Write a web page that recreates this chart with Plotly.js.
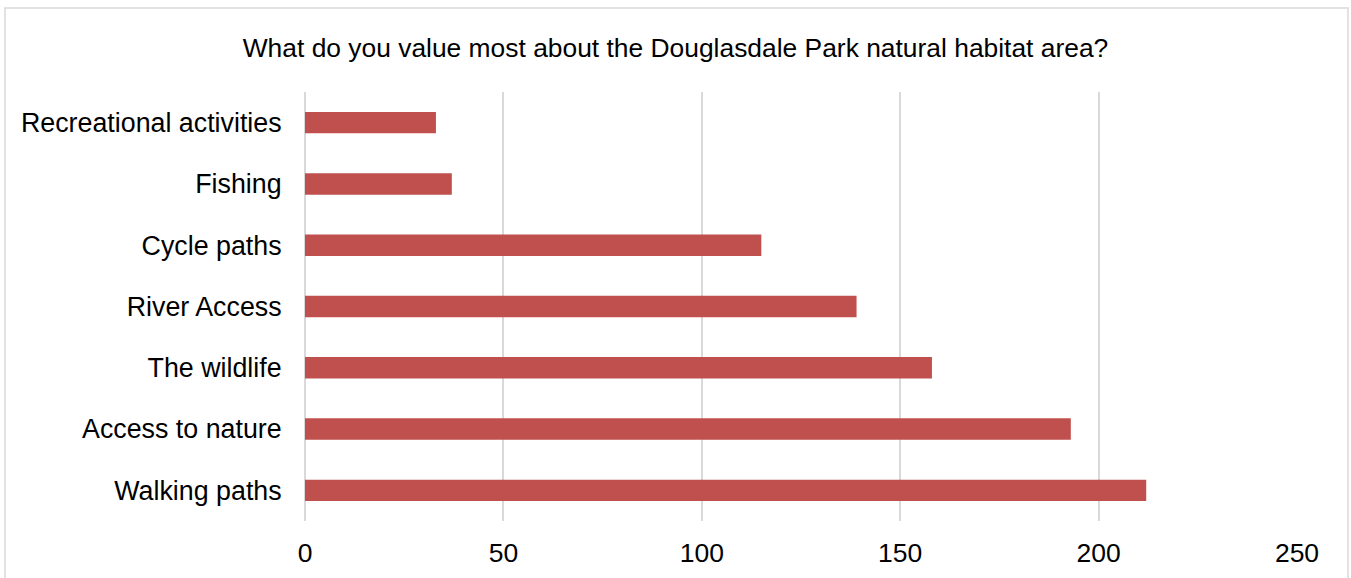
<!DOCTYPE html>
<html>
<head>
<meta charset="utf-8">
<script src="https://cdn.plot.ly/plotly-3.0.1.min.js"></script>
<style>
  html, body { margin: 0; padding: 0; background: #ffffff; }
  #chart { width: 1351px; height: 578px; }
</style>
</head>
<body>
<div id="chart"></div>
<script>
// Data (bottom to top in the chart)
const categories = [
  "Walking paths",
  "Access to nature",
  "The wildlife",
  "River Access",
  "Cycle paths",
  "Fishing",
  "Recreational activities"
];
const values = [212, 193, 158, 139, 115, 37, 33];
const xTickValues = [0, 50, 100, 150, 200, 250];
const chartTitle = "What do you value most about the Douglasdale Park natural habitat area?";

const W = 1351, H = 578;
const margin = { l: 305, r: 54, t: 92, b: 57, pad: 0 };
const plotW = W - margin.l - margin.r;
const plotH = H - margin.t - margin.b;
// border frame in pixels -> paper coords
const px = p => (p - margin.l) / plotW;
const py = p => (H - margin.b - p) / plotH;

const font = "Liberation Sans, Arial, Helvetica, sans-serif";

const trace = {
  type: "bar",
  orientation: "h",
  y: categories,
  x: values,
  marker: { color: "#c0504d" },
  hoverinfo: "x+y"
};

const layout = {
  width: W,
  height: H,
  margin: margin,
  paper_bgcolor: "#ffffff",
  plot_bgcolor: "#ffffff",
  showlegend: false,
  bargap: 0.65,
  title: {
    text: chartTitle,
    font: { family: font, size: 26.4, color: "#000000" },
    x: 0.5, xref: "container",
    xanchor: "center",
    y: 1 - 48 / H, yref: "container", yanchor: "middle"
  },
  xaxis: {
    range: [0, 250],
    tickvals: xTickValues,
    ticktext: xTickValues.map(String),
    showgrid: true,
    gridcolor: "#d9d9d9",
    gridwidth: 2,
    zeroline: false,
    showline: false,
    ticks: "outside",
    ticklen: 8,
    tickcolor: "rgba(0,0,0,0)",
    tickfont: { family: font, size: 26.5, color: "#000000" },
    fixedrange: true
  },
  yaxis: {
    type: "category",
    showgrid: false,
    zeroline: false,
    showline: false,
    ticks: "outside",
    ticklen: 17,
    tickcolor: "rgba(0,0,0,0)",
    tickfont: { family: font, size: 26.8, color: "#000000" },
    fixedrange: true
  },
  shapes: [
    {
      type: "line", xref: "paper", yref: "paper",
      x0: 0, x1: 0, y0: 0, y1: 1,
      line: { color: "#d9d9d9", width: 2 },
      layer: "below"
    },
    {
      type: "rect", xref: "paper", yref: "paper",
      x0: px(5), x1: px(1348), y0: py(8), y1: py(590),
      line: { color: "#d9d9d9", width: 1.5 },
      fillcolor: "rgba(0,0,0,0)",
      layer: "above"
    }
  ]
};

Plotly.newPlot("chart", [trace], layout, { displayModeBar: false, staticPlot: true });
</script>
</body>
</html>
